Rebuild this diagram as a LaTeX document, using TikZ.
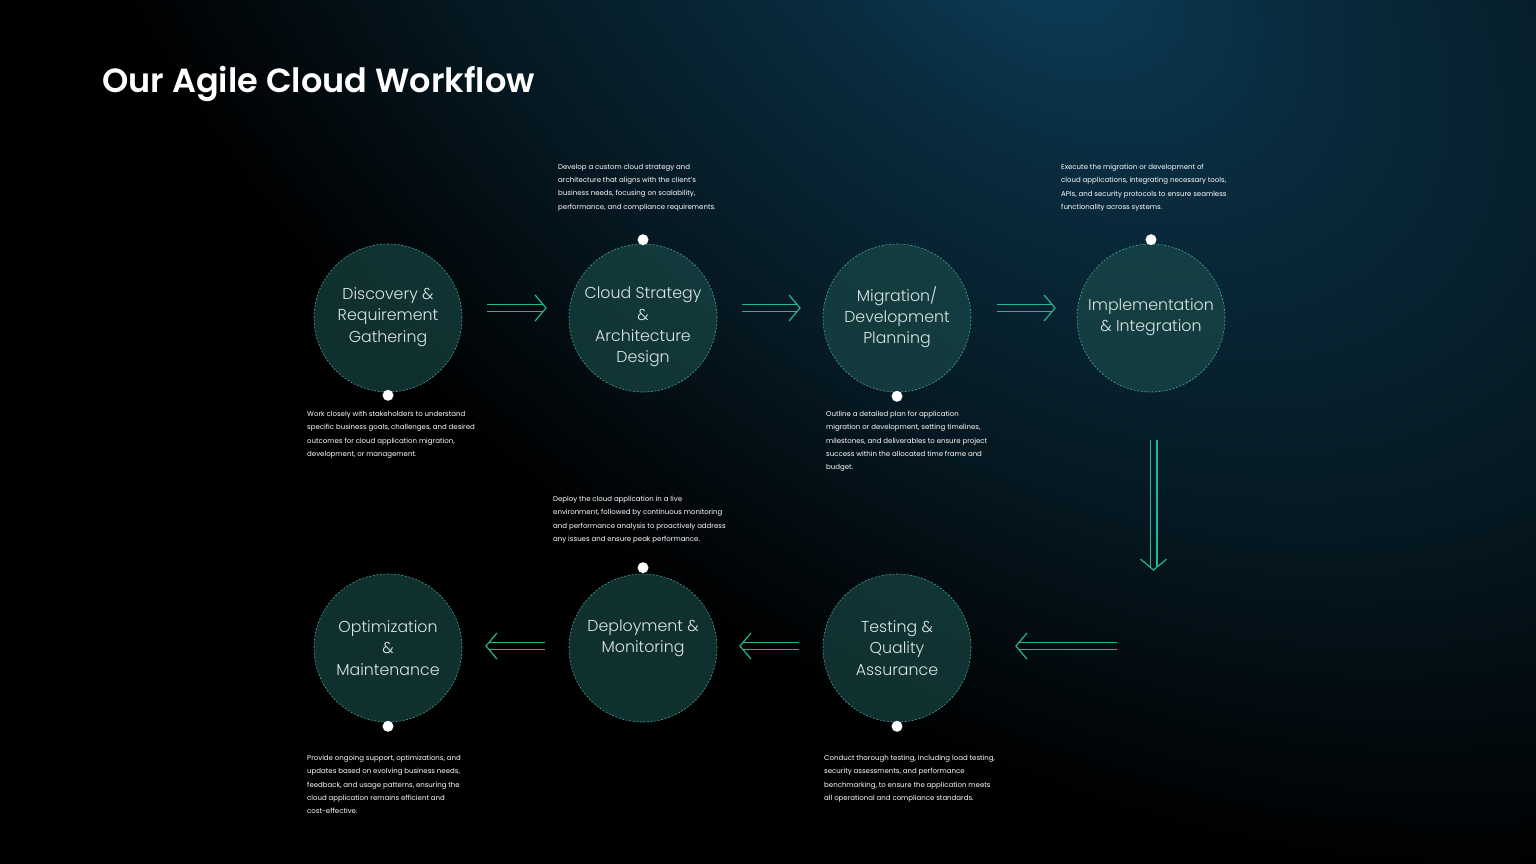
\documentclass[tikz,border=0pt]{standalone}
\usepackage{fontspec}
\setmainfont{Poppins}
\newfontfamily\lightf{Poppins Light}
\newfontfamily\semif{Poppins SemiBold}
\usetikzlibrary{calc}
\definecolor{glowc}{RGB}{12,62,92}
\definecolor{glowm}{RGB}{9,44,62}
\definecolor{glowo}{RGB}{6,26,36}
\definecolor{circfill}{RGB}{27,78,76}
\definecolor{dashc}{RGB}{70,165,150}
\definecolor{arrc}{RGB}{38,180,145}
\definecolor{lbl}{RGB}{220,230,228}
\pgfdeclareradialshading{glowsh}{\pgfpoint{0bp}{0bp}}{color(0bp)=(glowc);color(5bp)=(glowm);color(12bp)=(glowo);color(20bp)=(black);color(50bp)=(black)}
\tikzset{
  stepcirc/.style={circle, minimum size=148pt, inner sep=0pt, draw=dashc, line width=0.6pt,
    dash pattern=on 2pt off 1.6pt, fill=circfill, fill opacity=0.62},
  clabel/.style={inner sep=0pt, text=lbl, align=center, font=\lightf\fontsize{15.8}{21.3}\selectfont},
  dotn/.style={circle, fill=white, minimum size=11pt, inner sep=0pt},
  desc/.style={anchor=north west, inner sep=0pt, align=left, text=white,
    font=\fontsize{7}{13.3}\selectfont},
  arrline/.style={draw=arrc, line width=1.2pt}
}
\newcommand\dblarrow[2]{%
  \path ($(#2)!3pt!(#1)$) coordinate (tmpe);
  \draw[arrline] ($(#1)!3.4pt!90:(#2)$) -- ($(tmpe)!3.4pt!-90:(#1)$);
  \draw[arrline] ($(#1)!3.4pt!-90:(#2)$) -- ($(tmpe)!3.4pt!90:(#1)$);
  \draw[arrline] ($(#2)!17pt!50:(#1)$) -- (#2) -- ($(#2)!17pt!-50:(#1)$);
}
\begin{document}
\begin{tikzpicture}[x=1pt,y=-1pt]
\useasboundingbox (0,0) rectangle (1536,864);
\fill[black] (0,0) rectangle (1536,864);
\begin{scope}
  \clip (0,0) rectangle (1536,864);
  \begin{scope}[transform canvas={shift={(1030,-60)}, rotate=-38, yscale=0.62}]
    \shade[shading=glowsh] (-1500,-1500) rectangle (1500,1500);
  \end{scope}
\end{scope}

\node[anchor=base west, inner sep=0pt, text=white, font=\semif\fontsize{33.5}{40}\selectfont] (title) at (102,93) {Our Agile Cloud Workflow};

% circles
\node[stepcirc] (c1) at (388,318) {};
\node[stepcirc] (c2) at (643,318) {};
\node[stepcirc] (c3) at (897,318) {};
\node[stepcirc] (c4) at (1151,318) {};
\node[stepcirc] (c5) at (897,648) {};
\node[stepcirc] (c6) at (643,648) {};
\node[stepcirc] (c7) at (388,648) {};

% circle labels
\node[clabel] (l1) at ($(c1)+(0,-1)$) {Discovery \&\\Requirement\\Gathering};
\node[clabel] (l2) at ($(c2)+(0,9)$) {Cloud Strategy\\\&\\Architecture\\Design};
\node[clabel] (l3) at ($(c3)+(0,-1)$) {Migration/\\Development\\Planning};
\node[clabel] (l4) at ($(c4)+(0,-1)$) {Implementation\\\& Integration};
\node[clabel] (l5) at ($(c5)+(0,0)$) {Testing \&\\Quality\\Assurance};
\node[clabel] (l6) at ($(c6)+(0,-10)$) {Deployment \&\\Monitoring};
\node[clabel] (l7) at ($(c7)+(0,0)$) {Optimization\\\&\\Maintenance};

% dots
\node[dotn] (d1) at ($(c1.south)+(0,3)$) {};
\node[dotn] (d2) at ($(c2.north)+(0,-4)$) {};
\node[dotn] (d3) at ($(c3.south)+(0,4)$) {};
\node[dotn] (d4) at ($(c4.north)+(0,-4)$) {};
\node[dotn] (d5) at ($(c5.south)+(0,4)$) {};
\node[dotn] (d6) at ($(c6.north)+(0,-6)$) {};
\node[dotn] (d7) at ($(c7.south)+(0,4)$) {};

% descriptions
\node[desc] (t1) at (307,411) {Work closely with stakeholders to understand\\specific business goals, challenges, and desired\\outcomes for cloud application migration,\\development, or management.};
\node[desc] (t2) at (558,164) {Develop a custom cloud strategy and\\architecture that aligns with the client's\\business needs, focusing on scalability,\\performance, and compliance requirements.};
\node[desc] (t3) at (826,411) {Outline a detailed plan for application\\migration or development, setting timelines,\\milestones, and deliverables to ensure project\\success within the allocated time frame and\\budget.};
\node[desc] (t4) at (1061,164) {Execute the migration or development of\\cloud applications, integrating necessary tools,\\APIs, and security protocols to ensure seamless\\functionality across systems.};
\node[desc] (t5) at (824,755) {Conduct thorough testing, including load testing,\\security assessments, and performance\\benchmarking, to ensure the application meets\\all operational and compliance standards.};
\node[desc] (t6) at (553,496) {Deploy the cloud application in a live\\environment, followed by continuous monitoring\\and performance analysis to proactively address\\any issues and ensure peak performance.};
\node[desc] (t7) at (307,755) {Provide ongoing support, optimizations, and\\updates based on evolving business needs,\\feedback, and usage patterns, ensuring the\\cloud application remains efficient and\\cost-effective.};

% arrow end points
\coordinate (a1s) at (487,308); \coordinate (a1e) at (546,308);
\coordinate (a2s) at (742,308); \coordinate (a2e) at (800,308);
\coordinate (a3s) at (997,308); \coordinate (a3e) at (1055,308);
\coordinate (a4s) at (1153.5,440); \coordinate (a4e) at (1153.5,570);
\coordinate (a5s) at (1117,646); \coordinate (a5e) at (1016,646);
\coordinate (a6s) at (799,646); \coordinate (a6e) at (740,646);
\coordinate (a7s) at (545,646); \coordinate (a7e) at (486,646);
\dblarrow{a1s}{a1e}
\dblarrow{a2s}{a2e}
\dblarrow{a3s}{a3e}
\dblarrow{a4s}{a4e}
\dblarrow{a5s}{a5e}
\dblarrow{a6s}{a6e}
\dblarrow{a7s}{a7e}
\end{tikzpicture}
\end{document}
